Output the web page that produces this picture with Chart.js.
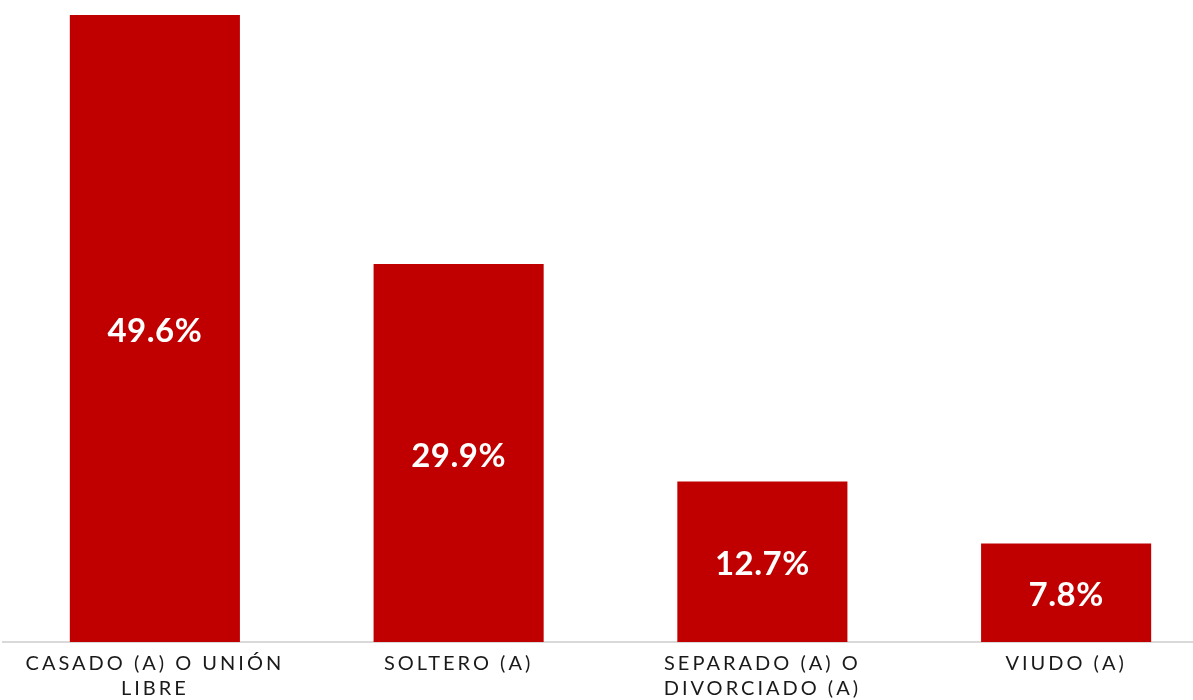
<!DOCTYPE html>
<html>
<head>
<meta charset="utf-8">
<script src="https://cdn.jsdelivr.net/npm/chart.js@4/dist/chart.umd.min.js"></script>
<style>
  html, body { margin: 0; padding: 0; background: #fff; overflow: hidden; }
  #wrap { width: 1225px; height: 700px; }
</style>
</head>
<body>
<div id="wrap"><canvas id="chart"></canvas></div>
<script>
const categories = [
    ['CASADO (A) O UNIÓN', 'LIBRE'],
    'SOLTERO (A)',
    ['SEPARADO (A) O', 'DIVORCIADO (A)'],
    'VIUDO (A)'
];
const values = [49.6, 29.9, 12.7, 7.8];

// spaced capitals for the axis labels, plain text for the values
const spacing = {
    id: 'spacing',
    beforeDraw(chart) {
        chart.ctx.letterSpacing = '3px';
    }
};

const valueLabels = {
    id: 'valueLabels',
    afterDatasetsDraw(chart) {
        const ctx = chart.ctx;
        ctx.save();
        ctx.letterSpacing = '0.5px';
        ctx.font = 'bold 33px Lato';
        ctx.fillStyle = '#ffffff';
        ctx.textAlign = 'center';
        ctx.textBaseline = 'middle';
        chart.getDatasetMeta(0).data.forEach((bar, i) => {
            const y = (bar.y + bar.base) / 2 + 3;
            ctx.fillText(values[i].toFixed(1) + '%', bar.x, y);
        });
        ctx.restore();
    }
};

const ctx = document.getElementById('chart').getContext('2d');
new Chart(ctx, {
    type: 'bar',
    data: {
        labels: categories,
        datasets: [{
            data: values,
            backgroundColor: '#c00000',
            barPercentage: 0.56,
            categoryPercentage: 1
        }]
    },
    options: {
        responsive: true,
        maintainAspectRatio: false,
        animation: false,
        layout: { padding: { left: 3, right: 7, top: 10, bottom: -10 } },
        plugins: {
            legend: { display: false },
            tooltip: { enabled: false }
        },
        scales: {
            x: {
                grid: { display: false, drawTicks: false },
                border: { display: true, color: '#d9d9d9', width: 2 },
                ticks: {
                    color: '#1a1a1a',
                    font: { family: 'Lato', size: 20, lineHeight: 1.25 },
                    padding: 9,
                    maxRotation: 0,
                    autoSkip: false
                }
            },
            y: {
                display: false,
                min: 0,
                max: 50
            }
        }
    },
    plugins: [spacing, valueLabels]
});
</script>
</body>
</html>
